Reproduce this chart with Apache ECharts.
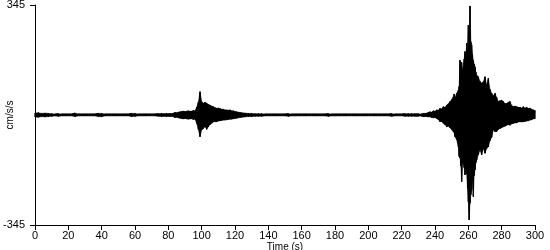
<!DOCTYPE html>
<html><head><meta charset="utf-8">
<script src="https://cdn.jsdelivr.net/npm/echarts@6/dist/echarts.min.js"></script>
<style>html,body{margin:0;padding:0;background:#fff}#c{width:550px;height:250px}</style>
</head><body><div id="c"></div>
<script>
// Envelope of the seismogram (time in s, acceleration in cm/s/s)
const times = [
  0,2,4,6,8,10,12,14,16,18,20,22,24,26,28,30,32,34,36,38,40,42,44,46,48,50,52,54,56,58,60,62,64,66,68,70,72,74,
  75,76,77,78,79,80,81,82,83,84,85,86,87,88,89,90,91,92,93,94,95,96,97,98,99,100,101,102,103,104,105,106,107,108,109,110,111,112,113,114,115,116,117,118,119,120,121,122,123,124,
  126,128,130,132,134,136,138,140,142,144,146,148,150,152,154,156,158,160,162,164,166,168,170,172,174,176,178,180,182,184,186,188,190,192,194,196,198,200,202,204,206,208,210,212,214,216,218,220,222,224,226,228,
  229,230,231,232,233,234,235,236,237,238,239,240,241,242,243,244,245,246,247,248,249,250,251,251.5,252,253,254,254.5,255,255.5,256,256.5,257,257.5,258,258.5,259,259.5,260,260.5,261,261.5,262,262.5,263,263.5,264,264.5,265,266,267,268,269,270,271,272,273,274,275,276,277,278,279,280,281,282,283,284,285,286,287,288,289,290,291,292,293,294,295,296,297,298,299,300
];
const upperEnv = [
  6,7,5,6,5,4,3,4,3,3,3,3,6,3,3,3,3,3,3,5,5,3,3,3,3,3,3,3,3,5,5,3,3,3,3,3,3,4,
  4,5,4,4,5,4,5,4,6,8,7,9,10,11,12,11,12,13,12,12,14,13,24,40,73,42,37,40,37,33,31,28,26,23,21,22,20,18,18,16,16,15,16,13,13,11,10,9,8,7,
  6,5,5,4,4,4,3,3,3,3,3,3,3,4,3,3,3,3,3,3,3,3,3,3,3,4,3,3,3,3,3,3,3,3,3,3,3,3,3,3,3,3,3,3,4,3,3,3,4,4,4,4,
  4,4,3,4,5,5,6,8,10,9,13,12,16,15,21,19,26,24,31,35,42,48,57,66,55,68,78,90,172,150,165,140,151,175,199,185,225,200,282,250,342,230,220,190,172,160,151,135,125,120,105,100,104,120,94,115,80,68,60,68,55,42,45,46,42,36,36,40,42,30,26,28,26,24,24,22,26,22,24,20,22,18,16,14
];
const lowerEnv = [
  -6,-7,-5,-6,-5,-4,-3,-4,-3,-3,-3,-3,-5,-3,-3,-3,-3,-3,-3,-5,-5,-3,-3,-3,-3,-3,-3,-3,-3,-5,-4,-3,-3,-3,-3,-3,-3,-4,
  -4,-5,-4,-4,-5,-4,-5,-4,-6,-8,-7,-9,-10,-11,-12,-11,-12,-13,-12,-12,-14,-13,-26,-45,-68,-47,-42,-37,-45,-37,-30,-26,-22,-21,-21,-19,-18,-17,-16,-16,-15,-14,-13,-13,-12,-11,-10,-9,-8,-7,
  -6,-5,-5,-4,-4,-4,-3,-3,-3,-3,-3,-3,-3,-4,-3,-3,-3,-3,-3,-3,-3,-3,-3,-3,-3,-4,-3,-3,-3,-3,-3,-3,-3,-3,-3,-3,-3,-3,-3,-3,-3,-3,-3,-3,-4,-3,-3,-3,-4,-4,-4,-4,
  -4,-4,-3,-4,-5,-5,-5,-6,-6,-8,-9,-8,-11,-14,-21,-20,-26,-30,-37,-35,-40,-46,-52,-55,-68,-78,-99,-130,-135,-160,-209,-150,-152,-165,-188,-160,-185,-230,-272,-329,-277,-250,-235,-200,-256,-190,-172,-150,-141,-125,-110,-125,-105,-120,-105,-100,-80,-70,-47,-52,-52,-45,-42,-40,-37,-35,-32,-30,-32,-28,-26,-25,-25,-22,-21,-22,-21,-20,-19,-18,-16,-15,-12,-12
];
const xTicks = { min: 0, max: 300, interval: 20 };
const yLimit = 345;

// Trace: alternate upper and lower envelope value at each sample time
const trace = [];
for (let i = 0; i < times.length; i++) {
  trace.push([times[i], upperEnv[i]]);
  trace.push([times[i], lowerEnv[i]]);
}
// Band segments between consecutive samples (filled)
const band = [];
for (let i = 0; i + 1 < times.length; i++) {
  band.push([times[i], upperEnv[i], lowerEnv[i], times[i + 1], upperEnv[i + 1], lowerEnv[i + 1]]);
}

const font = 'Liberation Sans, Arial, sans-serif';
const chart = echarts.init(document.getElementById('c'), null, { renderer: 'canvas' });
chart.setOption({
  animation: false,
  backgroundColor: '#fff',
  grid: { left: 35, right: 15, top: 5, bottom: 25, containLabel: false, outerBoundsMode: 'none' },
  xAxis: {
    type: 'value', min: xTicks.min, max: xTicks.max, interval: xTicks.interval,
    name: 'Time (s)', nameLocation: 'middle', nameGap: 17, nameMoveOverlap: false,
    nameTextStyle: { color: '#000', fontSize: 10, fontFamily: font },
    axisLine: { show: true, onZero: false, lineStyle: { color: '#000', width: 1 } },
    axisTick: { show: true, length: 5, inside: false, lineStyle: { color: '#000' } },
    axisLabel: { color: '#000', fontSize: 11, fontFamily: font, margin: 5 },
    splitLine: { show: false }
  },
  yAxis: {
    type: 'value', min: -yLimit, max: yLimit,
    name: 'cm/s/s', nameLocation: 'middle', nameGap: 20, nameMoveOverlap: false,
    nameTextStyle: { color: '#000', fontSize: 10, fontFamily: font },
    axisLine: { show: true, onZero: false, lineStyle: { color: '#000', width: 1 } },
    axisTick: { show: true, length: 5, customValues: [-yLimit, yLimit], lineStyle: { color: '#000' } },
    axisLabel: { color: '#000', fontSize: 11, fontFamily: font, margin: 10, customValues: [-yLimit, yLimit] },
    splitLine: { show: false }
  },
  series: [{
    type: 'custom',
    data: band,
    encode: { x: [0, 3], y: [1, 2, 4, 5] },
    renderItem: function (params, api) {
      const a = api.coord([api.value(0), api.value(1)]);
      const b = api.coord([api.value(3), api.value(4)]);
      const c = api.coord([api.value(3), api.value(5)]);
      const d = api.coord([api.value(0), api.value(2)]);
      return { type: 'polygon', shape: { points: [a, b, c, d] }, style: { fill: '#000', stroke: '#000', lineWidth: 0.5 } };
    },
    silent: true
  }, {
    type: 'line', data: trace, showSymbol: false, symbol: 'none',
    lineStyle: { color: '#000', width: 1 }, clip: false, sampling: null
  }]
});
</script></body></html>
